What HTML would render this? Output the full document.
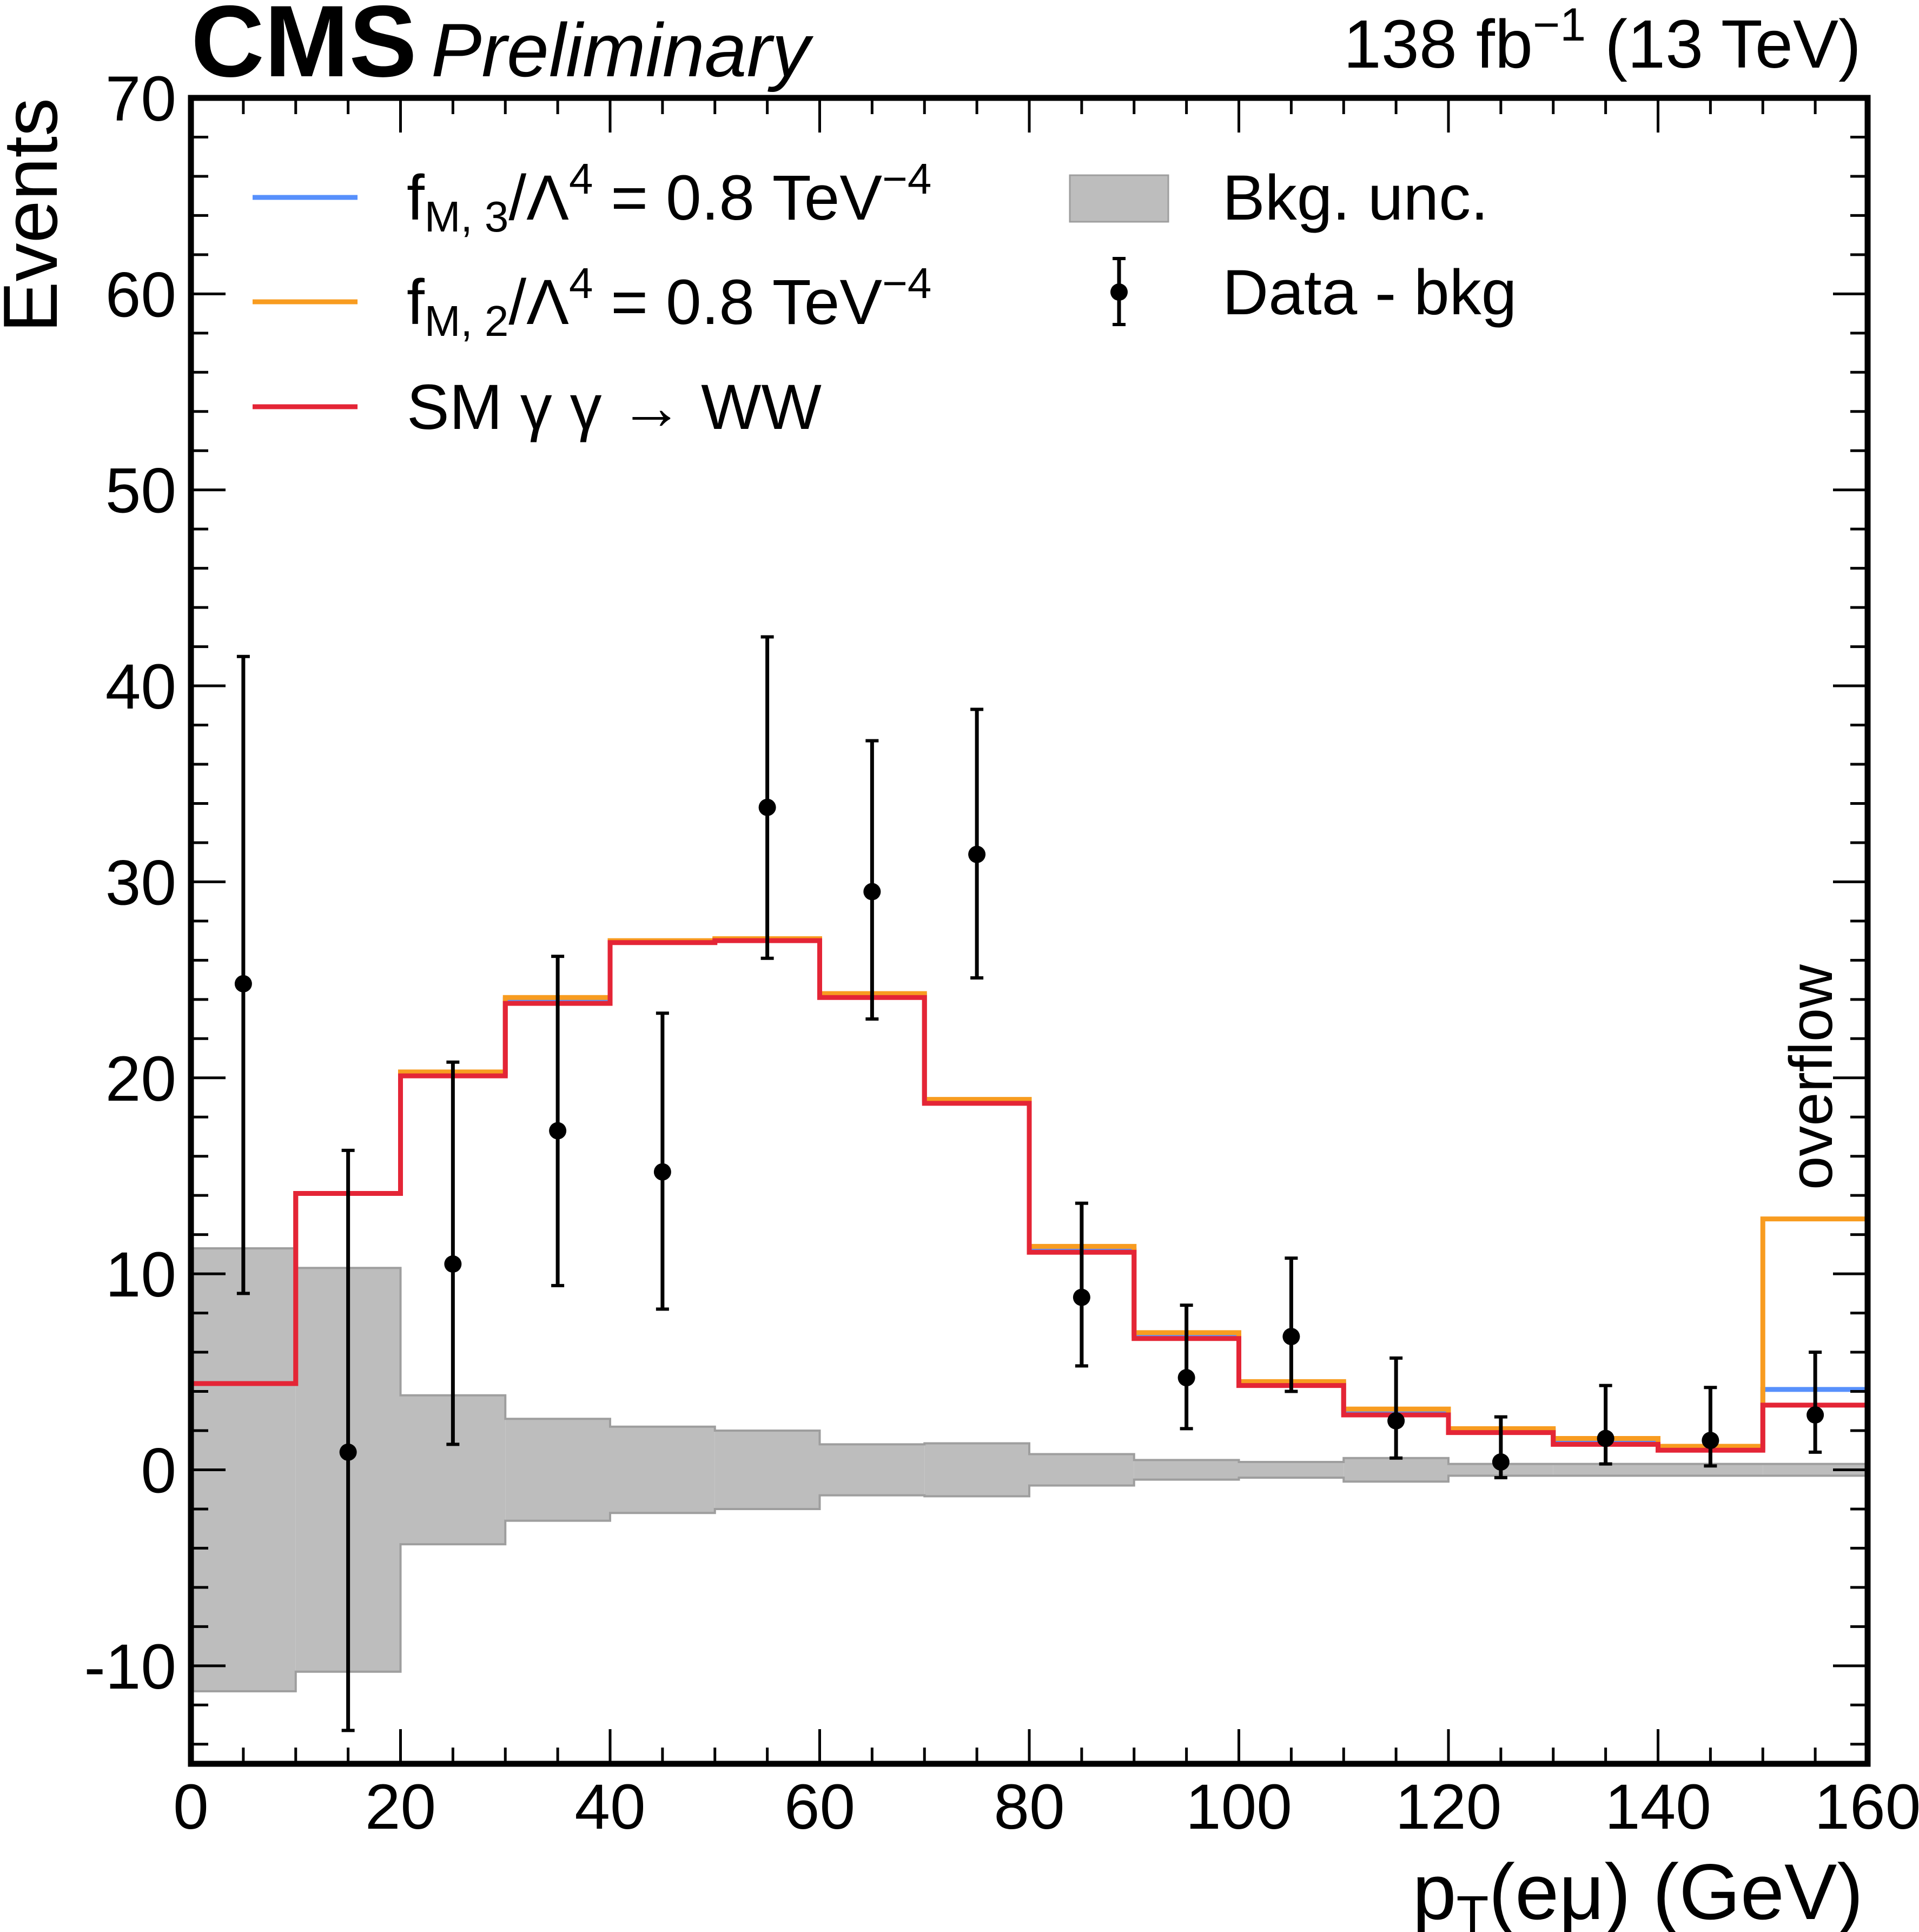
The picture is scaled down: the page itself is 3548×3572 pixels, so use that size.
<!DOCTYPE html>
<html><head><meta charset="utf-8"><style>
html,body{margin:0;padding:0;background:#fff;}
svg{display:block;font-family:"Liberation Sans","DejaVu Sans",sans-serif;}
</style></head><body>
<svg id="chart" width="3548" height="3572" viewBox="0 0 3548 3572" xmlns="http://www.w3.org/2000/svg">
<g id="bkg"></g>
<g id="hists"></g>
<g id="data"></g>
<g id="axes"></g>
<text x="353" y="141" font-size="188" font-weight="bold">CMS</text>
<text x="797" y="141" font-size="140" font-style="italic">Preliminary</text>
<text x="3441" y="125" font-size="126" text-anchor="end">138 fb<tspan dy="-50" font-size="86">−1</tspan><tspan dy="50"> (13 TeV)</tspan></text>
<text transform="translate(105,181) rotate(-90)" font-size="142" text-anchor="end">Events</text>
<text x="3445" y="3548" font-size="146" text-anchor="end">p<tspan font-size="98" dy="26">T</tspan><tspan dy="-26">(eμ) (GeV)</tspan></text>
<text transform="translate(3387,2200) rotate(-90)" font-size="112">overflow</text>
<g font-size="118">
 <line x1="467" y1="365" x2="661" y2="365" stroke="#5790fc" stroke-width="9"/>
 <text x="752" y="406">f<tspan font-size="80" dy="22">M, 3</tspan><tspan dy="-22">/Λ</tspan><tspan font-size="80" dy="-48">4</tspan><tspan dy="48"> = 0.8 TeV</tspan><tspan font-size="80" dy="-48">−4</tspan></text>
 <line x1="467" y1="558" x2="661" y2="558" stroke="#f89c20" stroke-width="9"/>
 <text x="752" y="599">f<tspan font-size="80" dy="22">M, 2</tspan><tspan dy="-22">/Λ</tspan><tspan font-size="80" dy="-48">4</tspan><tspan dy="48"> = 0.8 TeV</tspan><tspan font-size="80" dy="-48">−4</tspan></text>
 <line x1="467" y1="752" x2="661" y2="752" stroke="#e42536" stroke-width="9"/>
 <text x="752" y="793">SM γ γ → WW</text>
 <rect x="1978" y="324" width="182" height="86" fill="#bdbdbd" stroke="#9e9e9e" stroke-width="3"/>
 <text x="2260" y="406">Bkg. unc.</text>
 <line x1="2069" y1="478" x2="2069" y2="600" stroke="#000" stroke-width="7"/>
 <line x1="2057" y1="478" x2="2081" y2="478" stroke="#000" stroke-width="6"/>
 <line x1="2057" y1="600" x2="2081" y2="600" stroke="#000" stroke-width="6"/>
 <circle cx="2069" cy="540" r="16" fill="#000"/>
 <text x="2260" y="581">Data - bkg</text>
</g>
</svg>
<script>
const binEdges=[0,10,20,30,40,50,60,70,80,90,100,110,120,130,140,150,160];
const smValues=[4.4,14.1,20.1,23.8,26.9,27.0,24.1,18.7,11.1,6.7,4.3,2.8,1.9,1.3,1.0,3.3];
const fm2Values=[4.4,14.1,20.3,24.1,27.0,27.1,24.3,18.9,11.4,7.0,4.5,3.1,2.1,1.6,1.2,12.8];
const fm3Values=[4.4,14.1,20.2,24.0,26.95,27.05,24.2,18.8,11.2,6.85,4.4,2.9,2.0,1.4,1.1,4.1];
const bkgUnc=[11.3,10.3,3.8,2.6,2.2,2.0,1.3,1.35,0.8,0.5,0.4,0.6,0.3,0.3,0.3,0.3];
const dataX=[5,15,25,35,45,55,65,75,85,95,105,115,125,135,145,155];
const dataY=[24.8,0.9,10.5,17.3,15.2,33.8,29.5,31.4,8.8,4.7,6.8,2.5,0.4,1.6,1.5,2.8];
const dataLo=[9.0,-13.3,1.3,9.4,8.2,26.1,23.0,25.1,5.3,2.1,4.0,0.6,-0.4,0.3,0.2,0.9];
const dataHi=[41.5,16.3,20.8,26.2,23.3,42.5,37.2,38.8,13.6,8.4,10.8,5.7,2.7,4.3,4.2,6.0];
const yTicks=[-10,0,10,20,30,40,50,60,70];
const xTicks=[0,20,40,60,80,100,120,140,160];
const L=353,R=3453,T=181,B=3261,XMIN=0,XMAX=160,YMIN=-15,YMAX=70;
const sx=v=>L+(v-XMIN)/(XMAX-XMIN)*(R-L);
const sy=v=>B-(v-YMIN)/(YMAX-YMIN)*(B-T);
const NS="http://www.w3.org/2000/svg";
function mk(tag,attrs,parent){const e=document.createElementNS(NS,tag);for(const k in attrs)e.setAttribute(k,attrs[k]);parent.appendChild(e);return e;}
const gB=document.getElementById('bkg'),gH=document.getElementById('hists'),gD=document.getElementById('data'),gA=document.getElementById('axes');
for(let i=0;i<bkgUnc.length;i++){
 const r=mk('rect',{x:sx(binEdges[i]),y:sy(bkgUnc[i]),width:sx(binEdges[i+1])-sx(binEdges[i]),height:sy(-bkgUnc[i])-sy(bkgUnc[i]),fill:'#bdbdbd'},gB);
 
 
}
let up='',lo='';
for(let i=0;i<bkgUnc.length;i++){up+=(i?'L':'M')+sx(binEdges[i])+','+sy(bkgUnc[i])+'L'+sx(binEdges[i+1])+','+sy(bkgUnc[i]);lo+=(i?'L':'M')+sx(binEdges[i])+','+sy(-bkgUnc[i])+'L'+sx(binEdges[i+1])+','+sy(-bkgUnc[i]);}
const pu=mk('path',{d:up+' '+lo,fill:'none',stroke:'#9e9e9e','stroke-width':4},gB);


function step(vals,color,name){
 let d='';
 for(let i=0;i<vals.length;i++){d+=(i?'L':'M')+sx(binEdges[i])+','+sy(vals[i])+'L'+sx(binEdges[i+1])+','+sy(vals[i]);}
 const p=mk('path',{d:d,fill:'none',stroke:color,'stroke-width':9},gH);
 
 
}
step(fm3Values,'#5790fc','fm3-histogram');
step(fm2Values,'#f89c20','fm2-histogram');
step(smValues,'#e42536','sm-histogram');
for(let i=0;i<dataX.length;i++){
 const x=sx(dataX[i]);
 const l=mk('line',{x1:x,x2:x,y1:sy(dataHi[i]),y2:sy(dataLo[i]),stroke:'#000','stroke-width':7},gD);
 
 
 for(const v of [dataHi[i],dataLo[i]]){const c=mk('line',{x1:x-12,x2:x+12,y1:sy(v),y2:sy(v),stroke:'#000','stroke-width':6},gD);
 
 }
 const m=mk('circle',{cx:x,cy:sy(dataY[i]),r:16,fill:'#000'},gD);
 
 
}
for(let v=-14;v<=YMAX;v+=2){
 const major=(v%10===0);const len=major?64:32;
 for(const [x0,dir] of [[L,1],[R,-1]]){const t=mk('line',{x1:x0,x2:x0+dir*len,y1:sy(v),y2:sy(v),stroke:'#000','stroke-width':5},gA);
 
 }
}
for(let v=XMIN;v<=XMAX;v+=5){
 const major=(v%20===0);const len=major?64:30;
 for(const [y0,dir] of [[B,-1],[T,1]]){const t=mk('line',{x1:sx(v),x2:sx(v),y1:y0,y2:y0+dir*len,stroke:'#000','stroke-width':5},gA);
 
 }
}
for(const v of yTicks){const t=mk('text',{x:326,y:sy(v)+42,'font-size':118,'text-anchor':'end'},gA);t.textContent=String(v);
 
 }
for(const v of xTicks){const t=mk('text',{x:sx(v),y:3381,'font-size':118,'text-anchor':'middle'},gA);t.textContent=String(v);
 
 }
const f=mk('rect',{x:L,y:T,width:R-L,height:B-T,fill:'none',stroke:'#000','stroke-width':11},gA);


</script>
</body></html>
